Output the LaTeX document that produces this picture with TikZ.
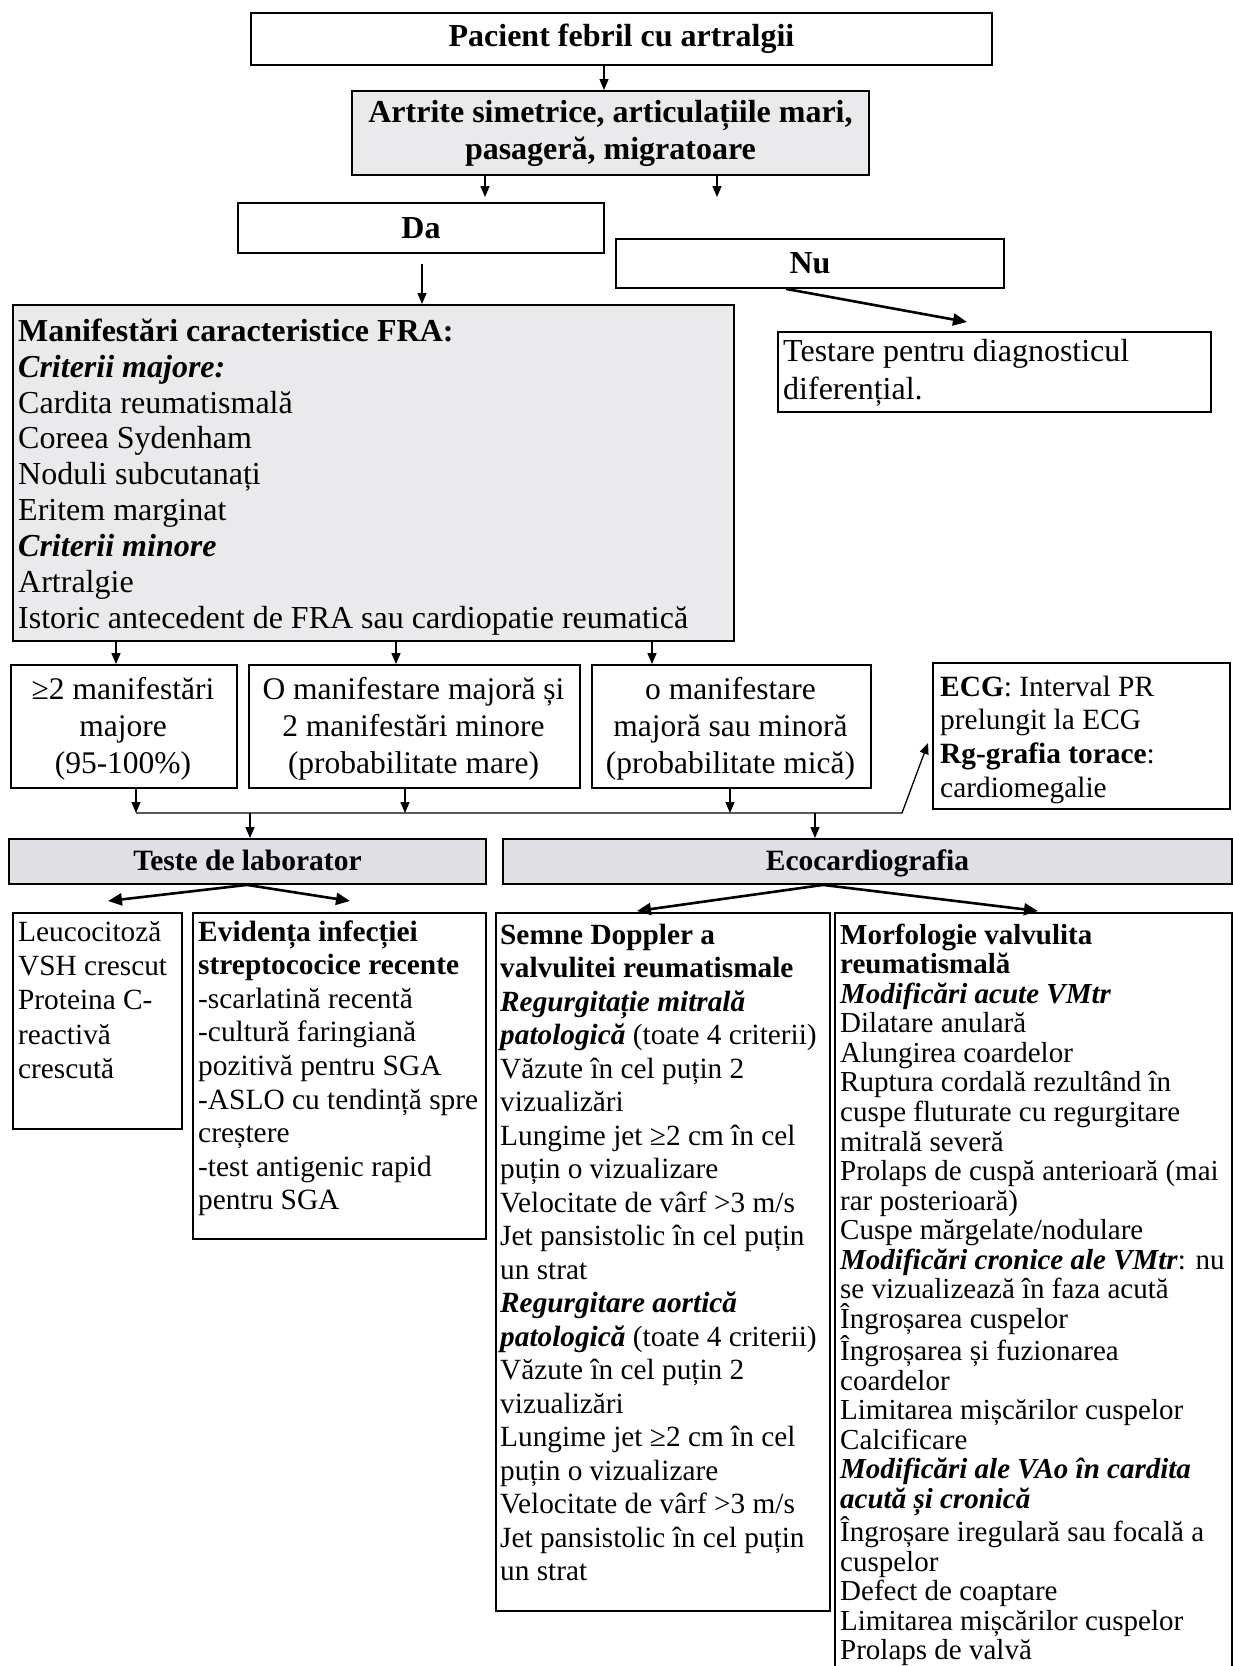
\documentclass[tikz,border=0pt]{standalone}
\usepackage{fontspec}
\setmainfont{Liberation Serif}
\usetikzlibrary{arrows.meta,calc}
\definecolor{boxgray}{RGB}{234,234,236}
\definecolor{hdrgray}{RGB}{224,224,228}
\newcommand{\mystrut}{\rule{0pt}{0.9em}}
\begin{document}
\begin{tikzpicture}[x=1pt,y=-1pt,
  box/.style={draw=black,line width=1.9pt,inner sep=0pt,rectangle,anchor=north west},
  graybox/.style={box,fill=boxgray},
  hdrbox/.style={box,fill=hdrgray},
  txt/.style={inner sep=0pt,align=left,anchor=north west},
  ctxt/.style={inner sep=0pt,align=center},
  arr/.style={line width=1.3pt,-{Triangle[length=11pt,width=9pt]}},
  thk/.style={line width=2.6pt,-{Triangle[length=14pt,width=12pt]}},
]
\useasboundingbox (0,0) rectangle (1233,1666);
\clip (0,0) rectangle (1233,1666);

% ---------- boxes ----------
\node[box,minimum width=741,minimum height=52] (top) at (250,12) {};
\node[graybox,minimum width=517,minimum height=84] (art) at (351,90) {};
\node[box,minimum width=366,minimum height=50] (da) at (237,202) {};
\node[box,minimum width=388,minimum height=49] (nu) at (615,238) {};
\node[box,minimum width=433,minimum height=80] (test) at (777,331) {};
\node[graybox,minimum width=721,minimum height=336] (man) at (12,304) {};
\node[box,minimum width=226,minimum height=123] (b1) at (10,664) {};
\node[box,minimum width=331,minimum height=123] (b2) at (248,664) {};
\node[box,minimum width=279,minimum height=123] (b3) at (591,664) {};
\node[box,minimum width=297,minimum height=146] (ecg) at (932,662) {};
\node[hdrbox,minimum width=477,minimum height=45] (teste) at (8,838) {};
\node[hdrbox,minimum width=729,minimum height=45] (eco) at (502,838) {};
\node[box,minimum width=169,minimum height=216] (leu) at (12,912) {};
\node[box,minimum width=293,minimum height=326] (evi) at (192,912) {};
\node[box,minimum width=334,minimum height=698] (sem) at (495,912) {};
\node[box,minimum width=397,minimum height=790] (mor) at (834,912) {};

% ---------- texts ----------
\node[ctxt,font=\fontsize{32}{37}\selectfont\bfseries] (topT) at (top.center) {Pacient febril cu artralgii};
\node[ctxt,font=\fontsize{32}{37}\selectfont\bfseries] (artT) at (art.center) {Artrite simetrice, articulațiile mari,\\pasageră, migratoare};
\node[ctxt,font=\fontsize{32}{37}\selectfont\bfseries] (daT) at (da.center) {Da};
\node[ctxt,font=\fontsize{32}{37}\selectfont\bfseries] (nuT) at (nu.center) {Nu};
\node[txt,font=\fontsize{32}{38}\selectfont] (testT) at (783,332.2) {\mystrut Testare pentru diagnosticul\\diferențial.};
\node[txt,font=\fontsize{32}{35.9}\selectfont] (manT) at (18,312.2) {\mystrut\textbf{Manifestări caracteristice FRA:}\\
\textbf{\textit{Criterii majore:}}\\
Cardita reumatismală\\
Coreea Sydenham\\
Noduli subcutanați\\
Eritem marginat\\
\textbf{\textit{Criterii minore}}\\
Artralgie\\
Istoric antecedent de FRA sau cardiopatie reumatică};
\node[ctxt,anchor=north,font=\fontsize{31.5}{37}\selectfont] (b1T) at (123,670.65) {\mystrut≥2 manifestări\\majore\\(95-100\%)};
\node[ctxt,anchor=north,font=\fontsize{31.5}{37}\selectfont] (b2T) at (413.5,670.65) {\mystrut O manifestare majoră și\\2 manifestări minore\\(probabilitate mare)};
\node[ctxt,anchor=north,font=\fontsize{31.5}{37}\selectfont] (b3T) at (730.5,670.65) {\mystrut o manifestare\\majoră sau minoră\\(probabilitate mică)};
\node[txt,font=\fontsize{29.4}{33.7}\selectfont] (ecgT) at (940,669.5) {\mystrut\textbf{ECG}: Interval PR\\prelungit la ECG\\\textbf{Rg-grafia torace}:\\cardiomegalie};
\node[ctxt,anchor=base,font=\fontsize{29.5}{34}\selectfont\bfseries] (testeT) at (teste.center |- 0,870) {Teste de laborator};
\node[ctxt,anchor=base,font=\fontsize{29.5}{34}\selectfont\bfseries] (ecoT) at (eco.center |- 0,870) {Ecocardiografia};
\node[txt,font=\fontsize{29.3}{34.3}\selectfont] (leuT) at (18,914.6) {\mystrut Leucocitoză\\VSH crescut\\Proteina C-\\reactivă\\crescută};
\node[txt,font=\fontsize{29.4}{33.6}\selectfont] (eviT) at (198,914.5) {\mystrut\textbf{Evidența infecției}\\
\textbf{streptococice recente}\\
-scarlatină recentă\\
-cultură faringiană\\
pozitivă pentru SGA\\
-ASLO cu tendință spre\\
creștere\\
-test antigenic rapid\\
pentru SGA};
\node[txt,font=\fontsize{29.3}{33.5}\selectfont] (semT) at (500,917.6) {\mystrut\textbf{Semne Doppler a}\\
\textbf{valvulitei reumatismale}\\
\textbf{\textit{Regurgitație mitrală}}\\
\textbf{\textit{patologică}} (toate 4 criterii)\\
Văzute în cel puțin 2\\
vizualizări\\
Lungime jet ≥2 cm în cel\\
puțin o vizualizare\\
Velocitate de vârf >3 m/s\\
Jet pansistolic în cel puțin\\
un strat\\
\textbf{\textit{Regurgitare aortică}}\\
\textbf{\textit{patologică}} (toate 4 criterii)\\
Văzute în cel puțin 2\\
vizualizări\\
Lungime jet ≥2 cm în cel\\
puțin o vizualizare\\
Velocitate de vârf >3 m/s\\
Jet pansistolic în cel puțin\\
un strat};
\node[txt,font=\fontsize{29}{29.55}\selectfont] (morT) at (840,917.9) {\mystrut\textbf{Morfologie valvulita}\\
\textbf{reumatismală}\\
\textbf{\textit{Modificări acute VMtr}}\\
Dilatare anulară\\
Alungirea coardelor\\
Ruptura cordală rezultând în\\
cuspe fluturate cu regurgitare\\
mitrală severă\\
Prolaps de cuspă anterioară (mai\\
rar posterioară)\\
Cuspe mărgelate/nodulare\\
\textbf{\textit{Modificări cronice ale VMtr}}: nu\\
se vizualizează în faza acută\\
Îngroșarea cuspelor\\
Îngroșarea și fuzionarea\\
coardelor\\
Limitarea mișcărilor cuspelor\\
Calcificare\\
\textbf{\textit{Modificări ale VAo în cardita}}\\
\textbf{\textit{acută și cronică}}\\
Îngroșare iregulară sau focală a\\
cuspelor\\
Defect de coaptare\\
Limitarea mișcărilor cuspelor\\
Prolaps de valvă};

% ---------- free ends ----------
\coordinate (nuin) at (717,197);
\coordinate (testin) at (967,322);
\coordinate (busL) at (136,813);
\coordinate (busR) at (902,813);
\coordinate (ecgin) at (928,743);
\coordinate (leuin) at (108,901);
\coordinate (eviin) at (350,901);
\coordinate (semin) at (637,911);
\coordinate (morin) at (1038,911);

% ---------- connectors ----------
\draw[arr] (604,0 |- top.south) -- (604,0 |- art.north);
\draw[arr] (485,0 |- art.south) -- ($(485,0 |- da.north)+(0,-5)$);
\draw[arr] (717,0 |- art.south) -- (nuin);
\draw[arr] ($(422,0 |- da.south)+(0,10)$) -- (422,0 |- man.north);
\draw[thk] (786,0 |- nu.south) -- (testin);
\draw[arr] (116,0 |- man.south) -- (116,0 |- b1.north);
\draw[arr] (396,0 |- man.south) -- (396,0 |- b2.north);
\draw[arr] (652,0 |- man.south) -- (652,0 |- b3.north);
\draw[arr] (136,0 |- b1.south) -- (busL);
\draw[arr] (405,0 |- b2.south) -- (405,0 |- busL);
\draw[arr] (730,0 |- b3.south) -- (730,0 |- busL);
\draw[arr] (busL) -- (busR) -- (ecgin);
\draw[arr] (250,0 |- busL) -- (250,0 |- teste.north);
\draw[arr] (815,0 |- busL) -- (815,0 |- eco.north);
\draw[thk] (247,0 |- teste.south) -- (leuin);
\draw[thk] (247,0 |- teste.south) -- (eviin);
\draw[thk] (823,0 |- eco.south) -- (semin);
\draw[thk] (823,0 |- eco.south) -- (morin);
\end{tikzpicture}
\end{document}
